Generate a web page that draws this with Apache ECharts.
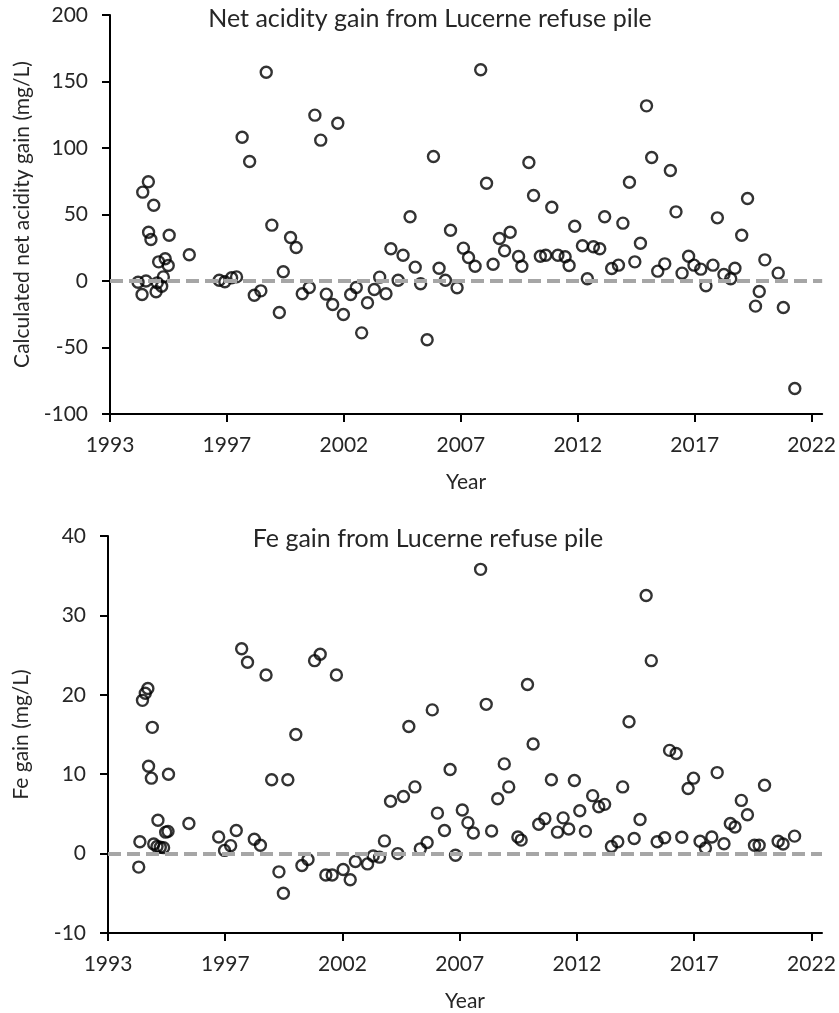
<!DOCTYPE html>
<html>
<head>
<meta charset="utf-8">
<script src="https://cdn.jsdelivr.net/npm/echarts@6/dist/echarts.min.js"></script>
<style>
html,body{margin:0;padding:0;background:#fff;}
#chart{width:839px;height:1013px;}
</style>
</head>
<body>
<div id="chart"></div>
<script>
// ---- data ----
const tickValues = [1993, 1998, 2003, 2008, 2013, 2018, 2023];
const tickLabels = ['1993', '1997', '2002', '2007', '2012', '2017', '2022'];

const acidYears = [1994.20,1994.37,1994.40,1994.54,1994.64,1994.65,1994.75,1994.87,1994.97,1995.02,1995.08,1995.21,1995.28,1995.36,1995.49,1995.53,1996.39,
1997.67,1997.91,1998.20,1998.41,1998.65,1998.97,1999.17,1999.45,1999.68,1999.92,2000.24,2000.41,2000.72,2000.96,2001.22,2001.52,2001.76,2002.01,2002.25,2002.52,2002.74,2002.98,
2003.29,2003.53,2003.76,2004.01,2004.30,2004.53,2004.80,2005.01,2005.32,2005.53,2005.83,2006.05,2006.28,2006.56,2006.83,2007.07,2007.34,2007.56,2007.84,2008.11,2008.33,2008.61,2008.85,
2009.10,2009.38,2009.65,2009.87,2010.11,2010.47,2010.61,2010.91,2011.11,2011.40,2011.63,2011.89,2012.15,2012.46,2012.63,2012.87,2013.20,2013.41,2013.67,2013.94,2014.15,2014.45,2014.74,2014.93,
2015.21,2015.44,2015.68,2015.94,2016.16,2016.42,2016.72,2016.96,2017.20,2017.46,2017.74,2017.97,2018.26,2018.48,2018.78,2018.97,2019.25,2019.54,2019.72,2020.01,2020.26,2020.60,2020.76,2021.00,2021.57,2021.79,2022.28];
const acidValues = [-0.9,-10.2,66.8,0.0,74.6,36.7,31.2,57.0,-8.1,-1.4,14.4,-3.9,3.1,16.7,11.7,34.4,19.7,
0.6,-0.6,2.4,3.1,108.1,89.8,-10.7,-7.4,157.0,42.0,-23.7,6.9,32.7,25.2,-9.6,-4.9,124.7,105.9,-9.9,-17.7,118.6,-25.2,
-10.2,-4.9,-39.0,-16.4,-6.4,2.9,-9.6,24.2,0.6,19.4,48.3,10.4,-2.1,-44.2,93.6,9.6,0.6,38.2,-5.1,24.7,17.7,11.1,158.8,
73.5,12.6,32.0,22.7,36.7,18.4,11.1,89.1,64.3,18.6,19.4,55.5,19.4,18.2,11.7,41.2,26.5,1.7,25.7,24.2,48.3,9.4,11.9,43.5,
74.3,14.4,28.4,131.7,92.9,7.4,12.9,83.1,52.0,5.9,18.6,11.9,8.9,-3.6,11.9,47.5,4.9,1.7,9.6,34.4,62.0,-18.9,-7.9,15.9,5.9,-19.9,-80.8];

const feYears = [1994.31,1994.36,1994.47,1994.59,1994.70,1994.73,1994.85,1994.89,1994.95,1995.09,1995.13,1995.23,1995.37,1995.46,1995.56,1995.58,1996.45,
1997.72,1997.97,1998.23,1998.47,1998.70,1998.95,1999.24,1999.50,1999.74,1999.98,2000.29,2000.48,2000.67,2001.01,2001.27,2001.53,2001.81,2002.05,2002.29,2002.56,2002.74,
2003.03,2003.33,2003.55,2004.07,2004.31,2004.58,2004.79,2005.05,2005.36,2005.60,2005.83,2006.09,2006.32,2006.61,2006.83,2007.05,2007.35,2007.59,2007.82,2008.11,2008.35,2008.58,2008.89,
2009.13,2009.36,2009.62,2009.90,2010.09,2010.48,2010.62,2010.89,2011.13,2011.37,2011.63,2011.91,2012.17,2012.41,2012.65,2012.89,2013.12,2013.36,2013.67,2013.93,2014.18,2014.47,2014.74,2014.95,
2015.22,2015.44,2015.69,2015.95,2016.17,2016.42,2016.74,2016.95,2017.23,2017.47,2017.74,2017.97,2018.25,2018.48,2018.75,2018.98,2019.27,2019.54,2019.74,2020.01,2020.27,2020.57,2020.77,2021.00,2021.58,2021.79,2022.28];
const feValues = [-1.7,1.5,19.3,20.2,20.8,11.0,9.5,15.9,1.2,0.9,4.2,0.8,0.75,2.7,2.8,10.0,3.8,
2.1,0.4,1.0,2.9,25.8,24.1,1.8,1.05,22.5,9.3,-2.3,-5.0,9.3,15.0,-1.5,-0.75,24.3,25.1,-2.7,-2.7,22.5,
-2.0,-3.3,-1.0,-1.3,-0.3,-0.45,1.6,6.6,0.0,7.2,16.0,8.4,0.6,1.4,18.1,5.1,2.9,10.6,-0.2,5.5,3.9,2.6,35.8,
18.8,2.85,6.9,11.3,8.4,2.1,1.7,21.3,13.8,3.7,4.4,9.3,2.7,4.5,3.1,9.2,5.4,2.8,7.3,5.9,6.2,0.9,1.5,8.4,
16.6,1.9,4.3,32.5,24.3,1.5,2.0,13.0,12.6,2.05,8.2,9.5,1.55,0.7,2.1,10.2,1.25,3.8,3.35,6.7,4.9,1.05,1.05,8.6,1.55,1.2,2.2];

const zeroLine = 0;
const titles = ['Net acidity gain from Lucerne refuse pile', 'Fe gain from Lucerne refuse pile'];
const yNames = ['Calculated net acidity gain (mg/L)', 'Fe gain (mg/L)'];
const xName = 'Year';

// ---- chart ----
const FONT = 'Lato, "Noto Sans", sans-serif';
const TXT = '#262626';
const chart = echarts.init(document.getElementById('chart'), null, {renderer: 'canvas'});

function xAxisCfg(gridIndex) {
  return {
    type: 'value', gridIndex: gridIndex, min: 1993, max: 2023.45,
    name: xName, nameLocation: 'middle', nameGap: 58,
    nameTextStyle: {fontFamily: FONT, fontSize: 21, color: TXT},
    axisLine: {show: true, onZero: false, lineStyle: {color: '#000', width: 2}},
    axisTick: {show: true, inside: false, length: 8, customValues: tickValues, lineStyle: {color: '#000', width: 2}},
    axisLabel: {
      show: true, customValues: tickValues, margin: 21,
      fontFamily: FONT, fontSize: 21, color: TXT,
      formatter: function (v) { const i = Math.round((v - 1993) / 5); return tickLabels[i] || ''; }
    },
    splitLine: {show: false}
  };
}
function yAxisCfg(gridIndex, min, max, interval, name) {
  return {
    type: 'value', gridIndex: gridIndex, min: min, max: max, interval: interval,
    name: name, nameLocation: 'middle', nameGap: 76,
    nameTextStyle: {fontFamily: FONT, fontSize: 21, color: TXT},
    axisLine: {show: true, onZero: false, lineStyle: {color: '#000', width: 2}},
    axisTick: {show: true, inside: false, length: 8, lineStyle: {color: '#000', width: 2}},
    axisLabel: {show: true, margin: 22, fontFamily: FONT, fontSize: 21, color: TXT},
    splitLine: {show: false}
  };
}
function zeroMark() {
  return {
    symbol: 'none', silent: true, label: {show: false},
    lineStyle: {type: [13, 6], color: '#A6A6A6', width: 4},
    emphasis: {disabled: true},
    data: [{yAxis: zeroLine}]
  };
}
function scatter(xi, yi, xs, ys) {
  return {
    type: 'scatter', xAxisIndex: xi, yAxisIndex: yi,
    data: xs.map((x, i) => [x, ys[i]]),
    symbol: 'circle', symbolSize: 11,
    itemStyle: {color: 'rgba(0,0,0,0)', borderColor: '#000', borderWidth: 2.4},
    emphasis: {disabled: true},
    markLine: zeroMark(),
    animation: false
  };
}

chart.setOption({
  animation: false,
  backgroundColor: '#fff',
  grid: [
    {left: 110, top: 15, width: 713, height: 399},
    {left: 108, top: 536, width: 714, height: 399}
  ],
  xAxis: [xAxisCfg(0), xAxisCfg(1)],
  yAxis: [yAxisCfg(0, -100, 200, 50, yNames[0]), yAxisCfg(1, -10, 40, 10, yNames[1])],
  graphic: [
    {type: 'text', x: 430, y: 6, style: {text: titles[0], font: '25px ' + FONT, fill: TXT, textAlign: 'center', textVerticalAlign: 'top'}},
    {type: 'text', x: 428, y: 526, style: {text: titles[1], font: '25px ' + FONT, fill: TXT, textAlign: 'center', textVerticalAlign: 'top'}}
  ],
  series: [scatter(0, 0, acidYears, acidValues), scatter(1, 1, feYears, feValues)]
});
</script>
</body>
</html>
